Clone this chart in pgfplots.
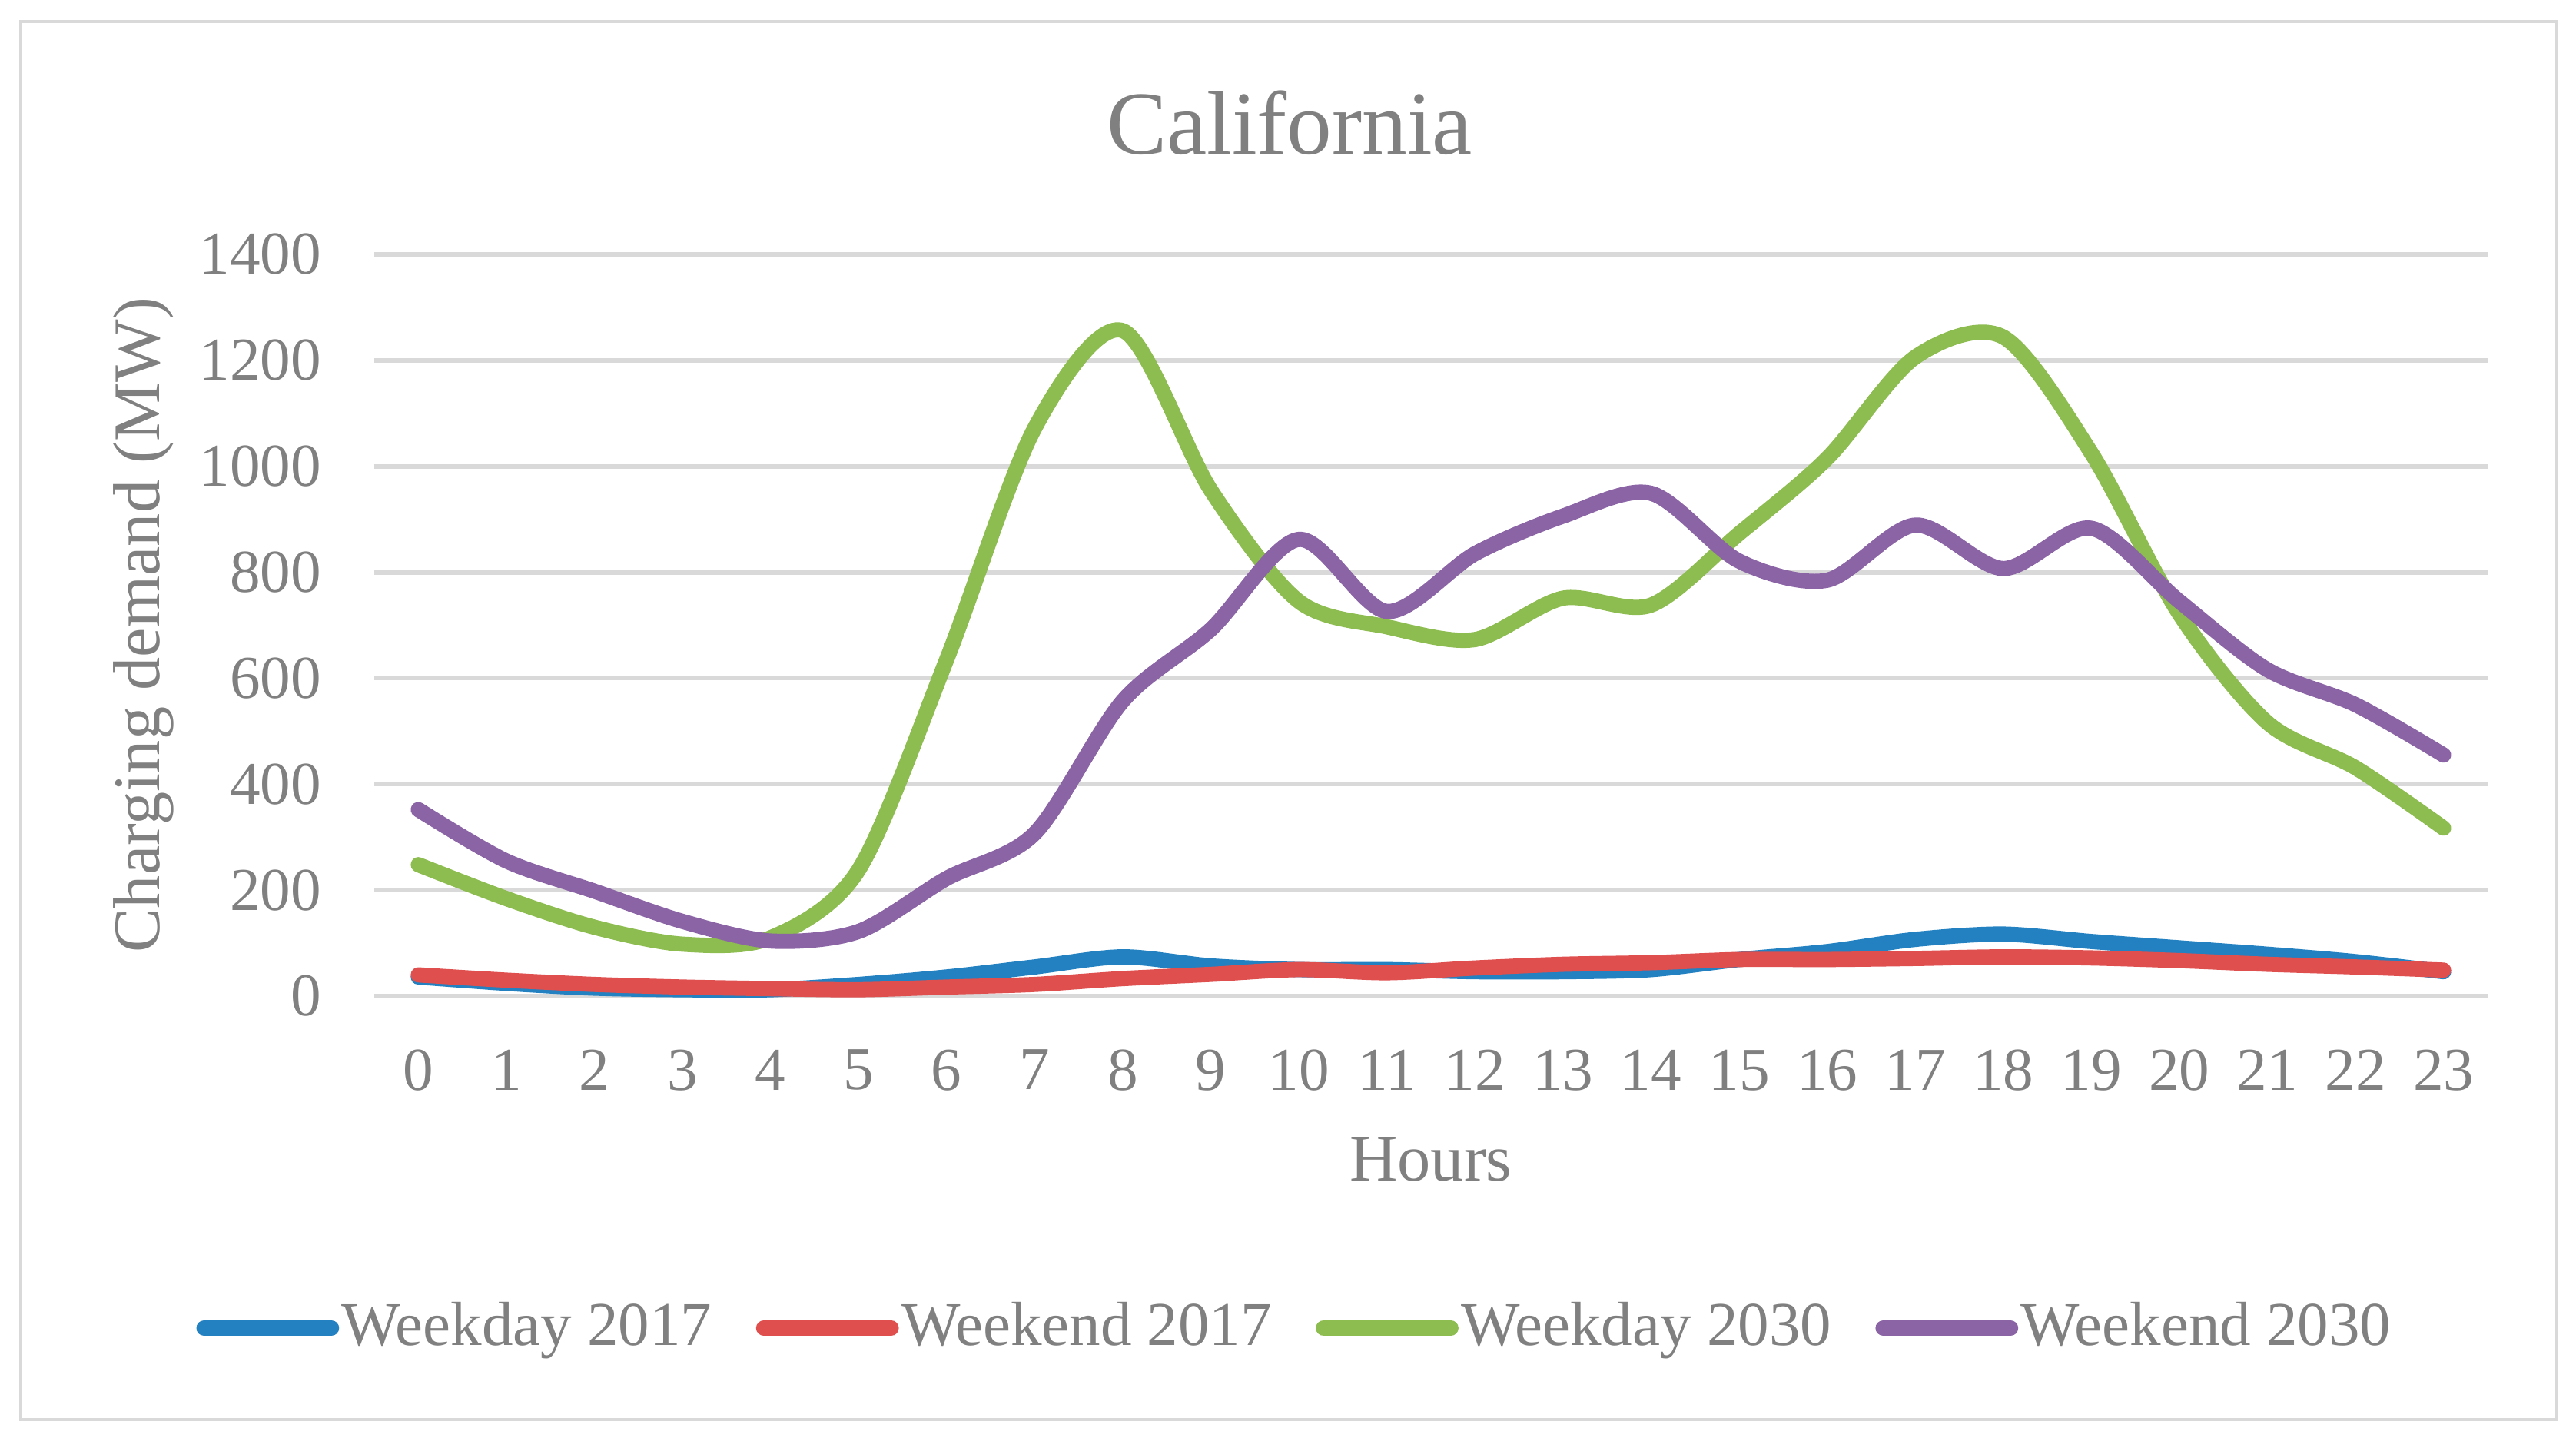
\documentclass[border=0pt]{standalone}
\usepackage{fontspec}
\setmainfont{Liberation Serif}
\usepackage{pgfplots}
\usepackage{pgfplotstable}
\pgfplotsset{compat=1.18}
\definecolor{cblue}{HTML}{2381C1}
\definecolor{cred}{HTML}{DE4F4E}
\definecolor{cgreen}{HTML}{8DBC50}
\definecolor{cpurple}{HTML}{8B64A6}
\definecolor{cgrid}{HTML}{D9D9D9}
\definecolor{ctext}{HTML}{808080}
\pgfplotstableread{
h blue red green purple
0 36 40 248 352
1 24 30 184 255
2 15 22 130 198
3 12 17 98 141
4 12 14 110 104
5 22 12 238 122
6 36 17 635 222
7 55 22 1072 307
8 74 33 1256 557
9 57 41 955 692
10 50 50 745 862
11 50 44 697 726
12 46 53 673 835
13 46 60 751 906
14 50 63 738 949
15 69 69 873 821
16 84 69 1015 785
17 107 71 1206 889
18 117 74 1244 807
19 103 72 1025 883
20 91 67 721 745
21 79 60 516 616
22 65 55 431 550
23 46 49 317 455
}\data
\begin{document}
\begin{tikzpicture}
\useasboundingbox (0,0) rectangle (465.556pt,259.861pt);
\draw[cgrid, line width=0.65pt] (3.75pt,3.33pt) rectangle (462.08pt,255.97pt);
\begin{axis}[
  at={(67.64pt,79.86pt)}, anchor=south west,
  scale only axis, width=381.94pt, height=134.03pt,
  xmin=-0.5, xmax=23.5, ymin=0, ymax=1400,
  xtick={0,1,...,23}, ytick={0,200,...,1400},
  /pgf/number format/assume math mode=true,
  /pgf/number format/1000 sep={},
  axis line style={draw=none},
  major tick length=0pt,
  ymajorgrids, grid style={cgrid, line width=0.85pt},
  tick label style={font=\fontsize{11}{13}\selectfont, text=ctext},
  xticklabel style={yshift=-6.2pt},
  yticklabel style={xshift=-6.05pt},
  title={California},
  title style={at={(axis description cs:0.4331,1.1357)}, anchor=base, yshift=-6pt, font=\fontsize{16.3}{19}\selectfont, text=ctext},
  xlabel={Hours},
  xlabel style={at={(axis description cs:0.5,-0.2497)}, anchor=base, font=\fontsize{12}{14}\selectfont, text=ctext},
  ylabel={Charging demand (MW)},
  ylabel style={at={(axis description cs:-0.109,0.5)}, anchor=center, font=\fontsize{12}{14}\selectfont, text=ctext},
  clip=false,
  every axis plot/.append style={line width=2.75pt, line cap=round, line join=round, smooth, tension=0.5, no markers},
  legend columns=4,
  legend style={at={(axis description cs:-0.0847,-0.4477)}, anchor=west, draw=none, fill=none, inner sep=0pt,
    font=\fontsize{11.25}{13}\selectfont, text=ctext,
    nodes={inner xsep=0.5pt},
    /tikz/every even column/.append style={column sep=7.47pt}},
  legend image code/.code={\draw[#1, line width=2.8pt, line cap=round] (0pt,0pt) -- (23pt,0pt);},
]
\addplot[cblue] table[x=h, y=blue] {\data};
\addlegendentry{Weekday 2017}
\addplot[cred] table[x=h, y=red] {\data};
\addlegendentry{Weekend 2017}
\addplot[cgreen] table[x=h, y=green] {\data};
\addlegendentry{Weekday 2030}
\addplot[cpurple] table[x=h, y=purple] {\data};
\addlegendentry{Weekend 2030}
\end{axis}
\end{tikzpicture}
\end{document}
